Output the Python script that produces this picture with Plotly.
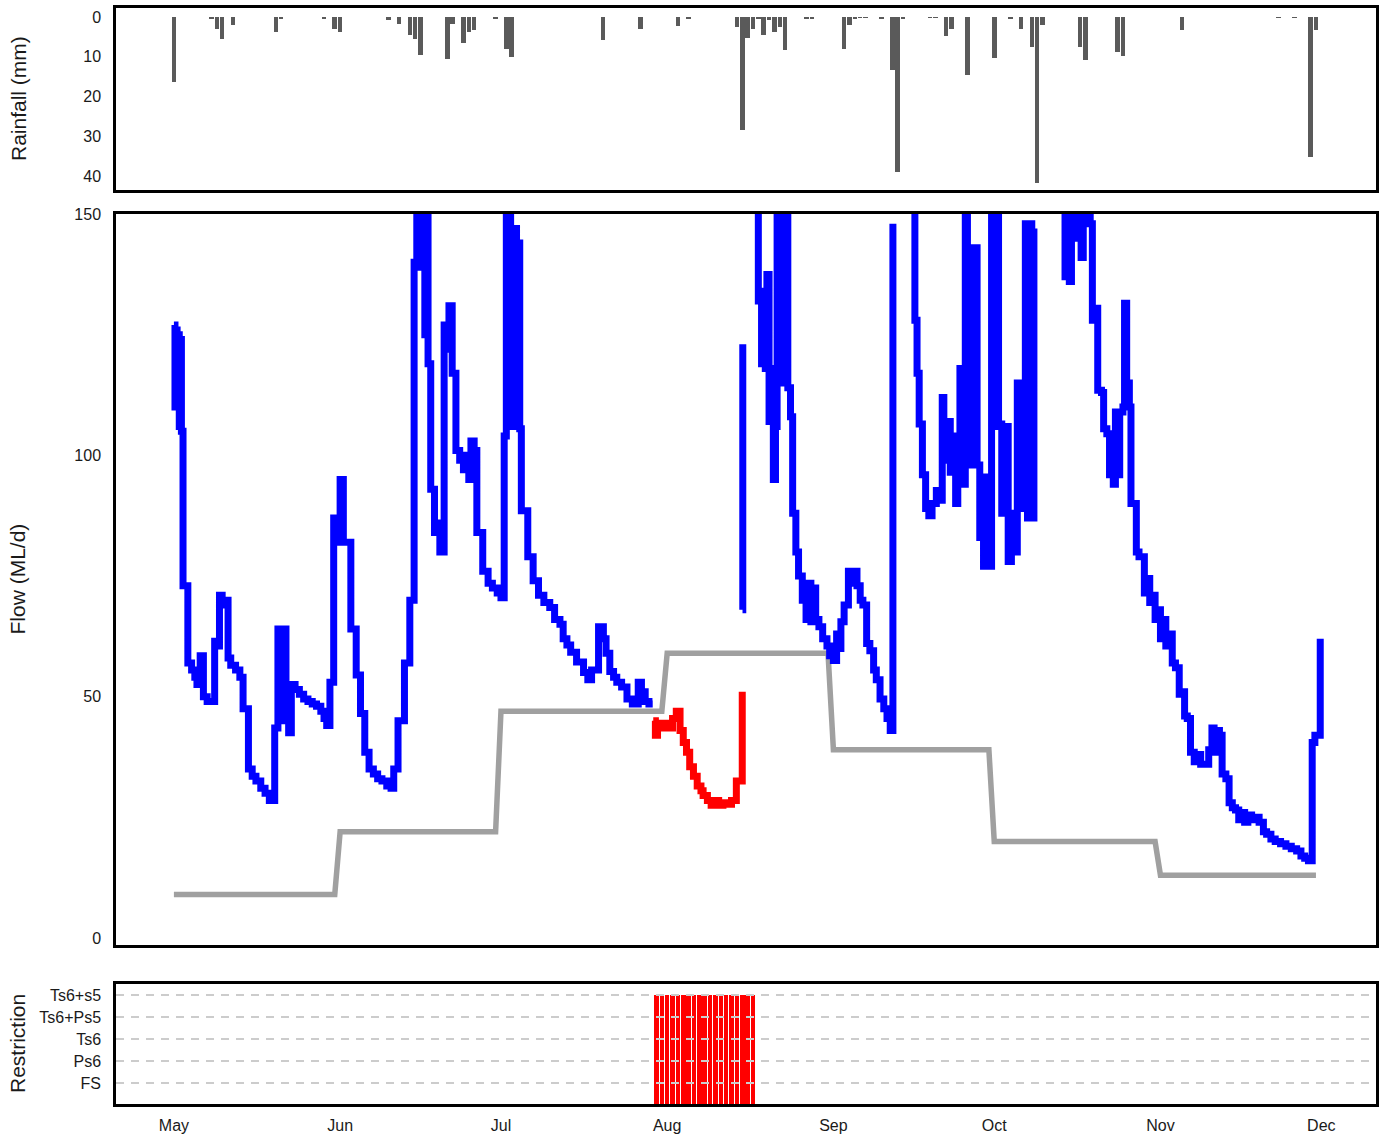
import numpy as np
import pandas as pd
import plotly.graph_objects as go

START = pd.Timestamp("2019-05-01")

# ---------------- data ----------------
# Rainfall: day offset from 1 May, rainfall (mm)
rain_day = [0, 7, 8, 9, 11, 19, 20, 28, 30, 31, 40, 42, 44, 45, 46, 51, 52, 54, 55, 56,
            60, 62, 63, 80, 87, 94, 96, 105, 106, 107, 108, 109, 110, 111, 112, 113, 114,
            118, 119, 125, 126, 127, 128, 129, 132, 134, 135, 136, 141, 142, 144, 145,
            148, 153, 156, 158, 160, 161, 162, 169, 170, 176, 177, 188, 206, 209, 212, 213]
rain_mm = [16.3, 0.5, 2.9, 5.4, 2.0, 3.7, 0.5, 0.3, 2.9, 3.8, 0.8, 1.8, 4.5, 5.4, 9.6, 10.6, 1.8, 6.6, 3.7, 3.3,
           0.3, 7.9, 10.0, 5.8, 3.1, 2.3, 0.3, 2.5, 28.4, 5.2, 2.9, 0.3, 4.5, 0.8, 3.7, 2.5, 8.3,
           0.4, 0.4, 8.1, 2.0, 0.5, 0.2, 0.2, 0.5, 13.2, 38.9, 0.5, 0.2, 0.2, 4.8, 3.1,
           14.6, 10.4, 0.3, 3.1, 7.5, 41.7, 2.0, 7.5, 10.8, 8.7, 9.8, 3.3, 0.2, 0.2, 35.1, 3.3]

# Flow (ML/d): time (fractional day offset from 1 May) and value; None = missing record
flow_t = [0.0, 0.2, 0.4, 0.6, 0.8, 1.0, 1.2, 1.4, 1.7, 2.6, 3.3, 3.9, 4.3, 4.9, 5.5, 6.2, 7.6, 8.1, 8.5, 9.0,
          9.5, 10.1, 10.6, 11.5, 12.3, 12.9, 13.9, 14.6, 15.3, 16.2, 17.0, 17.8, 18.8, 19.4, 20.2, 20.4,
          20.9, 21.4, 21.9, 22.6, 23.4, 24.2, 25.0, 25.8, 26.6, 27.4, 28.0, 28.5, 29.1, 29.8, 30.4, 31.0,
          31.6, 33.0, 34.0, 34.8, 35.6, 36.4, 37.2, 38.0, 38.8, 39.7, 40.5, 41.0, 41.8, 43.0, 44.0, 44.8,
          45.3, 46.0, 46.3, 46.8, 47.1, 47.4, 47.9, 48.6, 49.2, 49.6, 50.4, 50.9, 51.3, 51.9, 52.6, 53.3,
          54.0, 54.6, 55.0, 55.4, 56.0, 56.5, 57.6, 58.6, 59.4, 60.3, 61.0, 61.6, 62.0, 62.8, 63.2, 63.5,
          63.9, 64.2, 64.5, 64.8, 66.0, 67.0, 68.0, 69.0, 70.1, 71.0, 72.0, 72.6, 73.3, 74.0, 75.1, 76.4,
          77.2, 77.9, 79.2, 80.1, 80.6, 81.3, 82.0, 82.6, 83.5, 84.5, 85.5, 86.6, 87.2, 87.9, 88.6, 89.3,
          89.4, 89.8, 90.2, 90.9, 91.5, 92.3, 93.0, 93.7, 94.4, 95.0, 95.6, 96.2, 96.9, 97.6, 98.3, 98.7,
          99.5, 100.2, 101.0, 101.6, 102.4, 103.2, 104.0, 104.9, 106.0, 106.05, 106.1, 106.15,
          108.7, 109.0, 109.3, 109.6, 109.9, 110.3, 110.6, 111.0, 111.4, 111.8, 112.2, 112.5, 113.0, 113.3,
          113.8, 114.1, 114.5, 115.0, 115.4, 116.0, 116.5, 117.2, 117.9, 118.5, 118.8, 119.2, 119.7, 120.3,
          121.0, 121.8, 122.3, 123.0, 123.6, 124.0, 124.4, 125.0, 125.8, 126.4, 126.8, 127.4, 128.0, 128.5,
          129.2, 129.8, 130.5, 131.0, 131.7, 132.4, 133.0, 133.6, 134.1, 134.2,
          137.7, 138.2, 138.6, 139.0, 139.6, 140.2, 140.8, 141.4, 142.2, 142.6, 143.3, 143.6, 144.0, 144.8,
          145.2, 145.8, 146.2, 146.6, 147.2, 147.6, 148.0, 148.4, 148.9, 149.4, 149.8, 150.3, 151.0, 151.6,
          152.0, 152.5, 153.0, 153.4, 153.8, 154.4, 155.0, 155.6, 156.2, 156.8, 157.3, 157.7, 158.1, 158.8,
          159.2, 159.6, 160.0, 160.4, 160.5,
          165.9, 166.2, 166.6, 167.0, 167.4, 167.8, 168.3, 168.8, 169.2, 169.6, 170.9, 171.3, 171.8, 172.3,
          173.0, 173.4, 174.0, 174.5, 175.2, 175.6, 176.0, 176.4, 177.0, 177.3, 177.7, 178.2, 178.5, 179.2,
          179.5, 180.0, 180.5, 181.0, 181.5, 182.0, 182.5, 183.0, 183.6, 184.0, 184.6, 185.0, 185.6, 186.2,
          186.8, 187.5, 188.0, 188.5, 189.0, 189.6, 190.3, 191.0, 191.5, 192.5, 193.0, 193.6, 194.0, 194.4,
          195.0, 195.5, 196.2, 196.8, 197.4, 198.0, 198.6, 199.2, 199.7, 200.3, 201.0, 201.7, 202.4, 203.2,
          203.8, 204.6, 205.4, 206.4, 207.4, 208.4, 209.4, 210.2, 210.9, 211.6, 212.3, 212.8, 213.8]
flow_v = [127, 110, 126, 111, 125, 106, 124, 105, 73, 57, 55.5, 54, 52.5, 58.5, 50, 49, 61.5, 60.5, 71, 69,
          70, 58, 56.5, 55.5, 54, 47.5, 35, 33.5, 32.5, 31, 30, 28.5, 43.5, 64, 45, 64,
          50, 42.5, 52.5, 51.5, 50.5, 49.5, 49, 48.5, 48, 47, 45.5, 44, 53, 87, 82, 95,
          82, 64, 54.5, 46.5, 38.5, 35, 34, 33, 32.5, 31.5, 31, 35, 45, 57, 70, 140,
          160, 139, 160, 125, 160, 119, 93, 84, 86, 80, 127, 122, 131, 117, 101, 99,
          97, 100, 95, 103, 101, 84, 76, 73.5, 72.5, 71.5, 70.5, 104, 160, 146, 106, 147,
          107, 144, 105.5, 88.5, 79, 74, 71, 69.5, 68.5, 66, 65, 62, 60.7, 59.2, 57.2, 55,
          53.5, 55.5, 64.5, 62, 59, 55.2, 54, 53, 52, 49.5, 48.5, 53, 51, 49, 48.5, 48.5,
          45, 42, 44.5, 43.5, 44.5, 43.5, 45.5, 47, 43, 40.5, 38.5, 35.5, 33.5, 31.5, 30.5, 29.5,
          28.5, 27.5, 28.5, 27.5, 28, 27.7, 28.5, 32.5, 51, 68, 123, None,
          160, 132, 134, 119, 134, 118, 137.5, 107, 118, 95, 106, 160, 125, 160,
          115, 160, 114, 108, 88, 80, 75, 70, 66, 73.5, 65.5, 72.5, 66, 64.5,
          62, 60.5, 58.5, 57.5, 63, 60, 65.5, 69, 76, 73.5, 76, 73, 70, 69,
          61, 59.5, 55.5, 53.5, 49.5, 47.5, 45.5, 43, 148, None,
          160, 128, 117, 106.5, 96, 89, 87.5, 90, 92.7, 90.7, 112, 99, 107, 96.5,
          104, 90, 104, 118, 94, 160, 98, 143, 98, 143, 98, 83, 77, 95.5,
          77, 160, 106, 160, 106.5, 88, 106, 78, 88, 80, 115, 89, 114, 148,
          87, 148, 87, 147, None,
          160, 137, 160, 136, 160, 145, 160, 147, 141, 160, 148, 128, 130.5, 113.5,
          113, 105.5, 104.5, 96, 94, 109, 96, 109, 110, 131.5, 115, 110, 90, 90,
          80, 79, 79, 71.5, 74.5, 69.5, 71, 66, 68, 62, 66, 60.5, 63, 57,
          56, 50.5, 51, 46, 45.5, 38.5, 36.5, 38, 36, 36, 39, 43.5, 38.5, 43,
          42, 34, 33, 28, 27, 26.5, 24.5, 26, 24, 25.5, 24.5, 25, 24, 22,
          21.5, 20.5, 20, 19.5, 19, 18.5, 18, 17, 16.5, 16, 40.5, 42, 62]

# Flow threshold (ML/d) by month
thr_month = ["2019-05", "2019-06", "2019-07", "2019-08", "2019-09", "2019-10", "2019-11"]
thr_value = [9, 22, 47, 59, 39, 20, 13]

# Restriction status (daily)
restr_levels = ["FS", "Ps6", "Ts6", "Ts6+Ps5", "Ts6+s5"]
restr_day = list(range(90, 109))
restr_state = ["Ts6+s5"] * len(restr_day)

month_ticks = ["2019-05-01", "2019-06-01", "2019-07-01", "2019-08-01",
               "2019-09-01", "2019-10-01", "2019-11-01", "2019-12-01"]
month_labels = ["May", "Jun", "Jul", "Aug", "Sep", "Oct", "Nov", "Dec"]

# ---------------- derived ----------------
def to_dates(days):
    return [START + pd.Timedelta(days=float(d)) for d in days]

thr_dates = pd.date_range("2019-05-01", "2019-11-30", freq="D")
thr_lookup = dict(zip(thr_month, thr_value))
thr_daily = np.array([thr_lookup[d.strftime("%Y-%m")] for d in thr_dates], dtype=float)
thr_daynum = np.arange(len(thr_dates), dtype=float)

blue_v, red_v = [], []
for t, v in zip(flow_t, flow_v):
    if v is None:
        blue_v.append(None); red_v.append(None)
    elif v < np.interp(t, thr_daynum, thr_daily):
        blue_v.append(None); red_v.append(v)
    else:
        blue_v.append(v); red_v.append(None)

flow_dates = to_dates(flow_t)
DAY_MS = 86400000.0
FONT = "Liberation Sans, Arial, sans-serif"

fig = go.Figure()

fig.add_trace(go.Bar(x=to_dates(rain_day), y=rain_mm, width=0.85 * DAY_MS,
                     marker=dict(color="#5a5a5a", line=dict(width=0)),
                     xaxis="x", yaxis="y"))

fig.add_trace(go.Scatter(x=list(thr_dates), y=thr_daily, mode="lines",
                         line=dict(color="#a0a0a0", width=5.5),
                         xaxis="x2", yaxis="y2"))
fig.add_trace(go.Scatter(x=flow_dates, y=blue_v, mode="lines", connectgaps=False,
                         line=dict(color="#0000ff", width=7, shape="hv"),
                         xaxis="x2", yaxis="y2"))
fig.add_trace(go.Scatter(x=flow_dates, y=red_v, mode="lines", connectgaps=False,
                         line=dict(color="#ff0000", width=7, shape="hv"),
                         xaxis="x2", yaxis="y2"))

fig.add_trace(go.Bar(x=to_dates(restr_day),
                     y=[restr_levels.index(s) + 1 for s in restr_state],
                     width=0.85 * DAY_MS,
                     marker=dict(color="#ff0000", line=dict(width=0)),
                     xaxis="x3", yaxis="y3"))

xr = [START + pd.Timedelta(days=-10.8), START + pd.Timedelta(days=224.2)]
axis_common = dict(showline=True, mirror=True, linecolor="black", linewidth=2.5,
                   showgrid=False, zeroline=False, ticks="", automargin=False)
tickfont = dict(family=FONT, size=16, color="#1a1a1a")

fig.update_layout(
    template="none",
    width=1384, height=1136,
    margin=dict(l=116, r=8, t=8, b=32, autoexpand=False),
    paper_bgcolor="white", plot_bgcolor="white",
    showlegend=False, bargap=0,
    font=dict(family=FONT),
    xaxis=dict(axis_common, range=xr, type="date", showticklabels=False, anchor="y"),
    xaxis2=dict(axis_common, range=xr, type="date", showticklabels=False, anchor="y2", matches="x"),
    xaxis3=dict(axis_common, range=xr, type="date", anchor="y3", matches="x",
                tickvals=month_ticks, ticktext=month_labels, tickfont=tickfont,
                ticklabelstandoff=5),
    yaxis=dict(axis_common, domain=[0.8339, 1.0], range=[43.5, -2.3],
               tickvals=[0, 10, 20, 30, 40], tickfont=tickfont, anchor="x",
               ticklabelstandoff=9),
    yaxis2=dict(axis_common, domain=[0.1451, 0.8120], range=[-1.45, 150],
                tickvals=[0, 50, 100, 150], tickfont=tickfont, anchor="x2",
                ticklabelstandoff=9),
    yaxis3=dict(axis_common, domain=[0.0, 0.1095], range=[0.045, 5.5],
                tickvals=[1, 2, 3, 4, 5], ticktext=restr_levels, tickfont=tickfont,
                anchor="x3", ticklabelstandoff=9),
)

for k in range(1, len(restr_levels) + 1):
    fig.add_shape(type="line", xref="x3 domain", yref="y3", x0=0, x1=1, y0=k, y1=k,
                  line=dict(color="#cccccc", width=2, dash="8px,7px"), layer="above")

titles = [("Rainfall (mm)", "y domain"), ("Flow (ML/d)", "y2 domain"), ("Restriction", "y3 domain")]
for txt, yref in titles:
    fig.add_annotation(text=txt, xref="paper", yref=yref, x=(18 - 116) / 1260, y=0.5,
                       xanchor="center", yanchor="middle", textangle=-90, showarrow=False,
                       font=dict(family=FONT, size=21, color="#1a1a1a"))

fig.write_html("out.html", config={"displayModeBar": False},
               post_script="document.body.style.margin='0';document.body.style.overflow='hidden';")
